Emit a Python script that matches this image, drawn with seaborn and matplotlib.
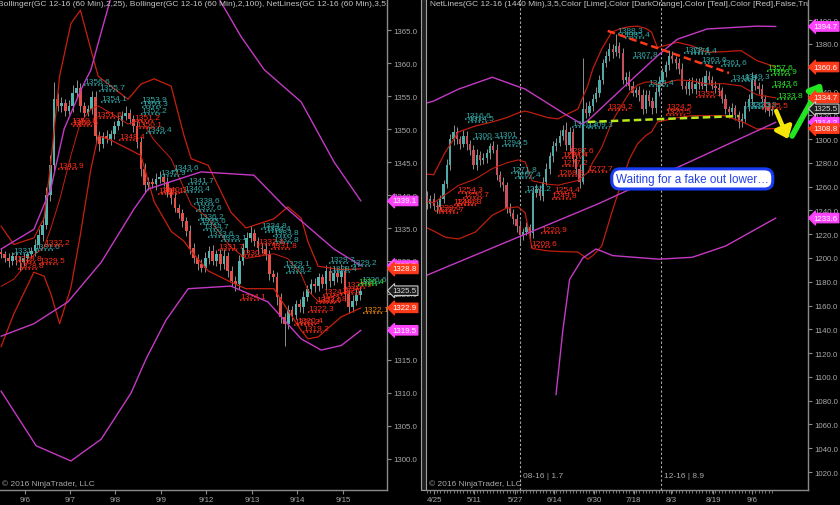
import numpy as np
import matplotlib
matplotlib.use('Agg')
import matplotlib.pyplot as plt
import seaborn as sns
from matplotlib.patches import Rectangle

# ---------------- left panel: GC 12-16, 60 min (shown as 2h bars) ----------------
L_close = [1331.0, 1330.5, 1330.0, 1330.8, 1330.2, 1329.8, 1330.5, 1331.0, 1331.5, 1332.5, 1334.0, 1335.5,
           1340.0, 1344.5, 1354.5, 1353.5, 1354.0, 1352.8, 1353.5, 1355.5, 1356.2, 1353.5, 1352.5, 1353.0,
           1354.8, 1349.0, 1347.8, 1349.0, 1348.5, 1349.2, 1350.5, 1351.2, 1352.0, 1352.5, 1351.5, 1350.5,
           1348.0, 1344.0, 1341.5, 1342.0, 1341.6, 1342.5, 1342.8, 1342.0, 1340.5, 1339.5, 1338.0, 1337.2,
           1336.0, 1334.5, 1332.0, 1330.5, 1329.5, 1329.0, 1330.5, 1331.5, 1330.0, 1331.0, 1329.5, 1330.8,
           1328.5, 1327.0, 1326.5, 1330.0, 1332.0, 1333.5, 1334.2, 1333.0, 1332.0, 1331.8, 1331.0, 1328.0,
           1327.5, 1324.5, 1321.5, 1320.5, 1322.5, 1321.8, 1323.5, 1323.0, 1324.5, 1325.8, 1326.5, 1326.2,
           1327.5, 1326.5, 1328.5, 1327.0, 1328.2, 1327.5, 1328.5, 1325.0, 1323.0, 1324.0, 1324.8, 1325.5]
L_first_open = 1331.3
L_upwick = [0.6, 0.5, 0.7, 0.6, 0.5, 0.6, 0.7, 0.5, 0.6, 0.8, 0.9, 1.1,
            1.2, 1.6, 2.6, 0.9, 0.8, 0.6, 0.9, 1.1, 1.3, 0.8, 0.6, 0.7,
            1.0, 0.9, 0.7, 0.6, 0.8, 0.6, 0.7, 0.9, 0.7, 1.0, 0.6, 0.6,
            0.7, 0.8, 0.9, 0.7, 0.6, 0.8, 0.9, 0.6, 0.7, 0.6, 0.9, 0.6,
            0.7, 0.6, 0.9, 0.7, 0.6, 0.8, 0.9, 0.7, 0.9, 0.6, 0.8, 1.0,
            0.6, 0.8, 0.7, 0.9, 0.7, 0.9, 1.1, 0.7, 0.6, 0.8, 0.9, 0.7,
            0.6, 0.9, 0.7, 0.6, 0.9, 0.7, 0.6, 0.8, 0.9, 0.6, 0.7, 0.9,
            0.7, 0.6, 0.9, 0.8, 1.1, 0.9, 1.0, 0.7, 0.6, 0.8, 0.9, 0.7]
L_dnwick = [0.6, 0.7, 0.9, 0.6, 0.8, 1.3, 0.6, 0.7, 0.6, 0.8, 0.6, 0.9,
            0.7, 0.9, 1.1, 0.7, 0.9, 0.8, 0.6, 0.9, 0.7, 0.9, 0.7, 0.6,
            0.8, 1.0, 1.1, 0.7, 0.6, 0.9, 0.7, 0.6, 0.8, 0.6, 0.7, 0.9,
            0.9, 1.1, 1.0, 0.7, 0.6, 0.9, 0.7, 0.6, 0.8, 0.9, 0.6, 0.7,
            0.9, 0.7, 1.0, 0.8, 0.9, 0.6, 0.7, 0.9, 0.6, 0.8, 0.9, 0.7,
            0.9, 0.8, 1.1, 0.7, 0.6, 0.8, 0.6, 0.7, 0.9, 0.6, 0.8, 0.9,
            0.7, 1.1, 0.9, 3.4, 0.8, 0.9, 0.6, 0.7, 0.9, 0.6, 0.8, 0.9,
            0.7, 0.6, 0.8, 0.9, 0.6, 0.7, 0.8, 1.1, 0.9, 0.7, 0.6, 0.7]

# Bollinger(25) red at these bar positions
L_bb25_x = [0, 3.4, 8.7, 11.4, 13.2, 15.5, 18.5, 21, 23.8, 25.7, 29.1, 33.6, 37, 40.5,
            45, 48.4, 50.3, 54.8, 60.8, 64.8, 72.2, 75.9, 79.4, 81.2, 83.9, 89.9, 95.2]
L_bb25_up = [1335.3, 1332.5, 1333.5, 1336.5, 1345, 1358, 1366, 1368, 1362, 1358, 1356.5, 1354.5, 1356.8, 1357.6,
             1356.5, 1349, 1345.5, 1344.5, 1337.4, 1335, 1336.4, 1338.2, 1336.5, 1332.9, 1329.2, 1328.7, 1328.8]
L_bb25_lo = [1317, 1322, 1328.3, 1327.7, 1325, 1320.5, 1326, 1334, 1344, 1349, 1348.3, 1347, 1346, 1339,
             1334.5, 1333, 1331.5, 1328.5, 1326.8, 1325.8, 1325.8, 1322.5, 1319.5, 1318.2, 1318.5, 1321.5, 1322.9]
# Bollinger(100) magenta
L_bb100_up_x = [0, 8.7, 13.2, 16.7, 21.2, 23.8, 25.7, 29.6, 40, 50, 56.9, 63.5, 69.6, 79.4, 88.1, 95.2]
L_bb100_up = [1331.8, 1334.8, 1341, 1350, 1356, 1359, 1363, 1371, 1378, 1377, 1370.5, 1364, 1359, 1354.1, 1345, 1339.1]
L_bb100_mid_x = [0, 8.7, 17.7, 26.5, 35.2, 38.9, 52.9, 66.9, 74.9, 88.1, 95.2]
L_bb100_mid = [1318.6, 1320.5, 1323.8, 1329.8, 1337.9, 1340.9, 1343.5, 1343, 1338.3, 1331.8, 1329.3]
L_bb100_lo_x = [0, 9.3, 18.5, 26.5, 34.4, 38.4, 43.6, 49.5, 60.8, 70.6, 79.4, 84.7, 90, 95.2]
L_bb100_lo = [1310.3, 1302, 1299.7, 1303, 1310, 1315.2, 1321, 1325.8, 1326.2, 1323.8, 1318.2, 1316.5, 1317.2, 1319.5]

# NetLines swing labels
L_hi_x = [3.2, 8.7, 22.0, 25.9, 26.5, 37.0, 37.3, 37.0, 38.4, 42.1, 45.5, 49.5, 48.4, 51.1, 51.6,
          52.1, 52.6, 53.4, 54.8, 58.2, 68.8, 69.8, 72.0, 72.0, 74.9, 75.4, 86.8, 87.3, 92.6, 95.2]
L_hi_p = [1331.1, 1331.6, 1356.6, 1355.7, 1354.1, 1353.9, 1353.3, 1352.2, 1349.4, 1342.9, 1343.6, 1341.7,
          1340.4, 1338.6, 1337.6, 1336.2, 1335.6, 1334.7, 1333.6, 1333.1, 1334.8, 1334.4, 1333.8, 1332.8,
          1329.1, 1328.2, 1329.7, 1328.4, 1329.2, 1326.6]
L_lo_x = [4.0, 4.5, 10.1, 11.4, 15.1, 18.5, 19.0, 25.1, 31.2, 35.2, 35.7, 41.5, 42.3, 57.4, 63.5,
          68.0, 71.4, 63.2, 85.2, 83.3, 84.7, 81.2, 77.5, 78.3, 79.9, 91.3, 90.0]
L_lo_p = [1329.8, 1328.8, 1329.5, 1332.2, 1343.9, 1350.8, 1350.5, 1351.6, 1348.4, 1351.2, 1350.1, 1340.1,
          1340.3, 1331.7, 1330.8, 1332.4, 1331.8, 1324.1, 1324.8, 1323.6, 1323.8, 1322.3, 1320.3, 1320.4,
          1319.2, 1325.9, 1325.0]
L_lime_x, L_lime_p = [94.4], [1326.4]
L_orange_x, L_orange_p = [95.8], [1322.1]

L_dates = ['9/6', '9/7', '9/8', '9/9', '9/12', '9/13', '9/14', '9/15']
L_date_pos = [6.35, 18.3, 30.2, 42.3, 54.2, 66.4, 78.3, 90.5]
L_yticks = [1300, 1305, 1310, 1315, 1320, 1325, 1330, 1335, 1340, 1345, 1350, 1355, 1360, 1365]
L_tags = [(1339.1, '#ff44ff'), (1329.3, '#ff44ff'), (1328.8, '#ff3a1a'), (1322.9, '#ff3a1a'), (1319.5, '#ff44ff')]
L_last = 1325.5

# ---------------- right panel: GC 12-16, daily ----------------
R_close = [1245, 1250, 1244, 1243, 1250, 1262, 1278, 1300, 1306, 1300,
           1296, 1303, 1296, 1291, 1278, 1287, 1282, 1284, 1288, 1294,
           1291, 1270, 1264, 1261, 1242, 1238, 1233, 1227, 1219, 1222,
           1226, 1221, 1255, 1258, 1252, 1264, 1275, 1286, 1294, 1297,
           1303, 1308, 1295, 1306, 1283, 1275, 1264, 1325, 1322, 1328,
           1334, 1339, 1350, 1364, 1370, 1376, 1373, 1378, 1372, 1350,
           1352, 1345, 1339, 1341, 1337, 1325, 1337, 1332, 1326, 1340,
           1348, 1356, 1362, 1370, 1367, 1364, 1359, 1345, 1342, 1348,
           1342, 1346, 1348, 1345, 1353, 1350, 1345, 1343, 1341, 1334,
           1325, 1323, 1326, 1320, 1314, 1317, 1328, 1334, 1350, 1345,
           1342, 1334, 1327, 1324, 1325.5]
R_first_open = 1252
R_upwick = [4, 3, 5, 4, 3, 4, 5, 4, 6, 4,
            3, 5, 4, 3, 4, 5, 3, 4, 4, 3,
            4, 5, 3, 4, 3, 4, 3, 4, 5, 3,
            4, 3, 5, 4, 3, 4, 5, 3, 4, 4,
            5, 4, 6, 4, 3, 4, 4, 43, 6, 4,
            4, 5, 4, 3, 4, 5, 4, 10, 4, 5,
            4, 5, 4, 3, 4, 5, 4, 4, 3, 4,
            5, 4, 4, 5, 4, 3, 4, 5, 4, 3,
            4, 5, 3, 4, 5, 4, 3, 4, 4, 3,
            4, 3, 4, 3, 4, 5, 4, 4, 6, 4,
            3, 4, 3, 4, 3]
R_dnwick = [4, 3, 4, 5, 3, 4, 3, 4, 5, 4,
            4, 3, 5, 4, 3, 4, 4, 3, 4, 5,
            3, 4, 4, 5, 4, 3, 4, 5, 7, 4,
            3, 5, 4, 4, 3, 4, 3, 4, 5, 4,
            3, 4, 4, 5, 4, 4, 5, 2, 4, 3,
            4, 3, 4, 4, 3, 4, 5, 3, 4, 4,
            5, 4, 3, 4, 5, 4, 3, 4, 5, 4,
            4, 3, 4, 4, 3, 5, 4, 3, 4, 5,
            3, 4, 4, 3, 5, 4, 3, 4, 5, 4,
            4, 5, 3, 4, 5, 4, 3, 4, 5, 4,
            4, 3, 4, 5, 4]

R_bb25_x = [-0.5, 2, 5.5, 9.5, 14.6, 19.7, 24, 27.5, 29.6, 31.7, 36.5, 39.5, 45.5, 48.5, 50,
            52.7, 55.7, 58.5, 61, 63.5, 66, 67.7, 69.5, 75.5, 79.7, 84.5, 89.6, 94.7, 99.5, 105.2]
R_bb25_up = [1270.7, 1270, 1289, 1306, 1311, 1314.4, 1318, 1322, 1323.6, 1322, 1318, 1317, 1325.3, 1345, 1359,
             1375.8, 1390, 1393, 1394.5, 1395, 1393, 1390, 1377, 1381.4, 1378.6, 1373, 1373.5, 1374.4, 1366, 1360.6]
R_bb25_lo = [1226, 1222.7, 1217.5, 1216, 1221.8, 1236, 1242, 1243, 1238, 1208, 1206, 1205.5, 1205, 1199, 1202,
             1210, 1238, 1262, 1283, 1296, 1303, 1306, 1314.4, 1318, 1319.7, 1319.7, 1319.7, 1315, 1308.5, 1308.8]
R_bb100_up_x = [-0.5, 2, 9.5, 19.7, 29.6, 41.6, 46.7, 48.5, 59.7, 69.5, 75.5, 84.5, 99.5, 105.2]
R_bb100_up = [1330, 1332, 1342, 1352, 1342, 1321, 1312.7, 1315.5, 1344.7, 1370, 1384, 1392.6, 1395, 1394.7]
R_bb100_mid_x = [-0.5, 52, 105.2]
R_bb100_mid = [1185, 1246, 1314.2]
R_bb100_lo_x = [38.9, 41, 43, 47, 51, 56, 70, 80, 90, 105.2]
R_bb100_lo = [1085, 1140, 1182, 1200, 1207.6, 1202, 1199, 1200.6, 1210, 1233.6]

R_hi_x = [11.6, 12.5, 14.0, 21.5, 22.7, 25.4, 26.6, 29.6, 43.7, 48.5, 57.5, 59.6, 62.0, 66.9,
          77.6, 79.7, 82.7, 88.7, 91.7, 95.6, 96.0, 97.7]
R_hi_p = [1316.6, 1314.5, 1300.3, 1301.0, 1294.5, 1271.8, 1267.4, 1255.2, 1310.2, 1309.3, 1388.3,
          1385.4, 1367.8, 1344.4, 1372.4, 1371.4, 1363.6, 1361.6, 1348.8, 1349.3, 1326.3, 1325.9]
R_lo_x = [2.5, 3.5, 8.0, 8.9, 9.2, 11.0, 31.4, 34.4, 37.6, 38.3, 39.5, 40.7, 40.7, 42.5, 48.5,
          54.5, 72.0, 72.3, 81.2, 101.0]
R_lo_p = [1239.6, 1237.7, 1244.9, 1244.3, 1254.3, 1250.7, 1209.6, 1220.9, 1249.8, 1254.4, 1268.9,
          1277.2, 1284.4, 1287.6, 1272.7, 1324.2, 1320.5, 1324.5, 1335.3, 1325.5]
R_lime_x = [102.6, 103.8, 104.1, 105.6]
R_lime_p = [1357.6, 1353.9, 1343.6, 1333.8]

R_dates = ['4/25', '5/11', '5/27', '6/14', '6/30', '7/18', '8/3', '8/19', '9/6']
R_date_pos = [2.25, 14.3, 26.6, 38.3, 50.3, 62.3, 73.7, 86.3, 98.05]
R_yticks = list(range(1020, 1401, 20))
R_tags = [(1394.7, '#ff44ff'), (1360.6, '#ff3a1a'), (1334.7, '#ff3a1a'), (1314.2, '#ff44ff'),
          (1308.8, '#ff3a1a'), (1233.6, '#ff44ff')]
R_last = 1325.5
R_rollover_x = [28.1, 70.7]
R_rollover_txt = ['08-16 | 1.7', '12-16 | 8.9']
R_resist = ([54.5, 91.1], [1391, 1355.6])
R_support = ([48.5, 94.0], [1314.4, 1319.4])

TITLE_L = ("Bollinger(GC 12-16 (60 Min),2,25), Bollinger(GC 12-16 (60 Min),2,100), "
           "NetLines(GC 12-16 (60 Min),3,5,Color [Lime],Color [DarkOrange],Color [Teal],Color [Red],False,True,True)")
TITLE_R = ("NetLines(GC 12-16 (1440 Min),3,5,Color [Lime],Color [DarkOrange],Color [Teal],Color [Red],"
           "False,True,True), Bollinger(GC 12-16 (1440 Min),2,25), Bollinger(GC 12-16 (1440 Min),2,100)")

# ---------------- drawing ----------------
sns.set_theme(style='dark', rc={'figure.facecolor': 'black', 'axes.facecolor': 'black',
                                'savefig.facecolor': 'black'})
plt.rcParams['font.family'] = ['Liberation Sans', 'DejaVu Sans']

TEAL, RED, LIME, ORANGE = '#35a7a7', '#ff2e1c', '#2ee62e', '#f08a10'
GREY = '#a8a8a8'
FS = 5.7

fig = plt.figure(figsize=(8.4, 5.06), dpi=100)
axL = fig.add_axes([0 / 840, 15 / 506, 387 / 840, 491 / 506])
axR = fig.add_axes([427 / 840, 15 / 506, 381 / 840, 491 / 506])


def candles(ax, closes, first_open, upw, dnw, up_col, dn_col, width):
    x = np.arange(len(closes))
    c = np.array(closes, float)
    o = np.r_[first_open, c[:-1]]
    hi = np.maximum(o, c) + np.array(upw)
    lo = np.minimum(o, c) - np.array(dnw)
    ax.vlines(x, lo, hi, color='#8e8e8e', lw=0.7, zorder=2)
    span = hi.max() - lo.min()
    body = np.maximum(np.abs(c - o), span * 0.005)
    cols = [up_col if cc >= oo else dn_col for oo, cc in zip(o, c)]
    ax.bar(x, body, bottom=np.minimum(o, c), width=width, color=cols, lw=0, zorder=3)


def band(ax, xs, ys, color, lw=0.9, alpha=1.0):
    sns.lineplot(x=xs, y=ys, ax=ax, color=color, lw=lw, alpha=alpha,
                 estimator=None, sort=False, zorder=4)


def netlines(ax, xs, ps, color, dash):
    for x, p in zip(xs, ps):
        ax.text(x, p, f'{p:g}', color=color, fontsize=FS + 0.3, ha='left', va='bottom', zorder=6, clip_on=True)
        ax.hlines(p, x, x + dash, color=color, lw=1.1, linestyles=(0, (1, 1.3)), zorder=6)


def tag(ax, p, fc, ec=None, tc='white'):
    ax.annotate(f'{p:.1f}', xy=(1, p), xycoords=('axes fraction', 'data'), xytext=(4, 0),
                textcoords='offset points', ha='left', va='center', fontsize=FS, color=tc,
                bbox=dict(boxstyle='larrow,pad=0.16', fc=fc, ec=ec or fc, lw=0.8),
                zorder=20, annotation_clip=False)


def frame(ax, yticks, dates, date_pos):
    for s in ['top', 'left']:
        ax.spines[s].set_visible(False)
    for s in ['right', 'bottom']:
        ax.spines[s].set_visible(True)
        ax.spines[s].set_color('#8a8a8a')
        ax.spines[s].set_linewidth(1.0)
    ax.yaxis.tick_right()
    ax.set_yticks(yticks)
    ax.set_yticklabels([f'{v:.1f}' for v in yticks])
    ax.set_xticks(date_pos)
    ax.set_xticklabels(dates)
    ax.tick_params(axis='y', right=True, colors='#8a8a8a', labelcolor=GREY, labelsize=FS,
                   length=3, width=0.8, pad=1.5)
    ax.tick_params(axis='x', bottom=True, colors='#8a8a8a', labelcolor=GREY, labelsize=FS,
                   length=3, width=0.8, pad=1)
    ax.grid(False)
    ax.set_xlabel('')
    ax.set_ylabel('')
    ax.text(0.004, 0.006, '\u00a9 2016 NinjaTrader, LLC', transform=ax.transAxes, color=GREY,
            fontsize=FS + 0.3, ha='left', va='bottom')


# left panel
candles(axL, L_close, L_first_open, L_upwick, L_dnwick, '#55b5ae', '#e2504a', 0.72)
L_mid = [(a + b) / 2 for a, b in zip(L_bb25_up, L_bb25_lo)]
band(axL, L_bb25_x, L_bb25_up, '#c8200e')
band(axL, L_bb25_x, L_bb25_lo, '#c8200e')
band(axL, L_bb25_x, L_mid, '#c8200e', lw=0.7)
band(axL, L_bb100_up_x, L_bb100_up, '#c43ac4', lw=1.0)
band(axL, L_bb100_mid_x, L_bb100_mid, '#c43ac4', lw=1.0)
band(axL, L_bb100_lo_x, L_bb100_lo, '#c43ac4', lw=1.0)
netlines(axL, L_hi_x, L_hi_p, TEAL, 5)
netlines(axL, L_lo_x, L_lo_p, RED, 5)
netlines(axL, L_lime_x, L_lime_p, LIME, 5)
netlines(axL, L_orange_x, L_orange_p, ORANGE, 5)
axL.set_xlim(-0.265, 102.1)
axL.set_ylim(1295.3, 1369.7)
frame(axL, L_yticks, L_dates, L_date_pos)
for p, col in L_tags:
    tag(axL, p, col)
tag(axL, L_last, '#1c1c1c', ec='#c8c8c8', tc='#dddddd')
axL.text(-0.006, 0.997, TITLE_L, transform=axL.transAxes, color='#c4c4c4', fontsize=FS + 0.3,
         ha='left', va='top', clip_on=True, zorder=30)

# right panel
candles(axR, R_close, R_first_open, R_upwick, R_dnwick, '#4fa9a6', '#c8505a', 0.66)
R_mid = [(a + b) / 2 for a, b in zip(R_bb25_up, R_bb25_lo)]
band(axR, R_bb25_x, R_bb25_up, '#c01e0e')
band(axR, R_bb25_x, R_bb25_lo, '#c01e0e')
band(axR, R_bb25_x, R_mid, '#c01e0e', lw=0.8)
band(axR, R_bb100_up_x, R_bb100_up, '#c43ac4', lw=1.0)
band(axR, R_bb100_mid_x, R_bb100_mid, '#c43ac4', lw=1.0)
band(axR, R_bb100_lo_x, R_bb100_lo, '#c43ac4', lw=1.0)
for xv, txt in zip(R_rollover_x, R_rollover_txt):
    axR.axvline(xv, color='#b0b0b0', lw=0.8, ls=(0, (2, 2)), zorder=1)
    axR.text(xv + 0.9, 1017.5, txt, color=GREY, fontsize=FS + 0.3, ha='left', va='center')
netlines(axR, R_hi_x, R_hi_p, TEAL, 6)
netlines(axR, R_lo_x, R_lo_p, RED, 6)
netlines(axR, R_lime_x, R_lime_p, LIME, 6)
axR.plot(*R_resist, color='#ff3a1a', lw=1.8, ls=(0, (3, 1.6)), zorder=7)
axR.plot(*R_support, color='#b6e81c', lw=1.8, ls=(0, (3, 1.6)), zorder=7)
axR.text(80.0, 1266.5, 'Waiting for a fake out lower\u2026', ha='center', va='center', fontsize=8.4,
         color='#2340e6', zorder=15,
         bbox=dict(boxstyle='round,pad=0.35,rounding_size=0.7', fc='white', ec='#1a3cf0', lw=2.2))
axR.annotate('', xy=(108.9, 1300.1), xytext=(105.3, 1323.6), annotation_clip=False, zorder=16,
             arrowprops=dict(arrowstyle='-|>,head_length=0.55,head_width=0.45', color='#f5e60a',
                             lw=3.2, shrinkA=0, shrinkB=0, mutation_scale=12))
axR.annotate('', xy=(119.0, 1347.2), xytext=(110.1, 1302.6), annotation_clip=False, zorder=16,
             arrowprops=dict(arrowstyle='-|>,head_length=0.55,head_width=0.45', color='#22e622',
                             lw=4.0, shrinkA=0, shrinkB=0, mutation_scale=12))
axR.set_xlim(0.45, 114.9)
axR.set_ylim(1004.9, 1417.8)
frame(axR, R_yticks, R_dates, R_date_pos)
axR.set_xticks(np.arange(len(R_close)), minor=True)
axR.tick_params(axis='x', which='minor', bottom=True, length=2.5, width=0.6, colors='#8a8a8a')
for p, col in R_tags:
    tag(axR, p, col)
tag(axR, R_last, '#1c1c1c', ec='#c8c8c8', tc='#dddddd')
axR.text(0.008, 0.997, TITLE_R, transform=axR.transAxes, color='#c4c4c4', fontsize=FS + 0.3,
         ha='left', va='top', clip_on=True, zorder=30)

# splitter between the two panels
fig.patches.append(Rectangle((421 / 840, 15 / 506), 5 / 840, 491 / 506, transform=fig.transFigure,
                             fc='#202020', ec='#a0a0a0', lw=0.8))

fig.savefig('out.png', dpi=100, facecolor='black')
